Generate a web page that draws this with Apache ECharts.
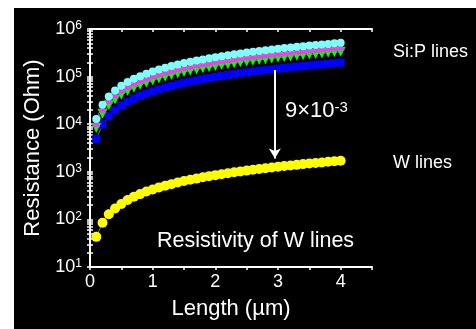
<!DOCTYPE html>
<html><head><meta charset="utf-8">
<script src="https://cdn.jsdelivr.net/npm/echarts@6/dist/echarts.min.js"></script>
<style>
html,body{margin:0;padding:0;background:#fff;}
#c{width:476px;height:329px;background:linear-gradient(#000,#000) 14px 8px / 462px 321px no-repeat #fff;}
</style></head><body><div id="c"></div>
<script>
// Length (µm)
const lengths = [0.1,0.2,0.3,0.4,0.5,0.6,0.7,0.8,0.9,1.0,1.1,1.2,1.3,1.4,1.5,1.6,1.7,1.8,1.9,2.0,
                 2.1,2.2,2.3,2.4,2.5,2.6,2.7,2.8,2.9,3.0,3.1,3.2,3.3,3.4,3.5,3.6,3.7,3.8,3.9,4.0];
// Si:P lines (Ohm)
const siPCyan = [12800,25600,38400,51200,64000,76800,89600,102000,115000,128000,141000,154000,166000,179000,192000,205000,218000,230000,243000,256000,
                 269000,282000,294000,307000,320000,333000,346000,358000,371000,384000,397000,410000,422000,435000,448000,461000,474000,486000,499000,512000];
const siPMagenta = [10700,21400,32100,42800,53500,64200,74900,85600,96300,107000,117700,128400,139100,149800,160500,171200,181900,192600,203300,214000,
                    224700,235400,246100,256800,267500,278200,288900,299600,310300,321000,331700,342400,353100,363800,374500,385200,395900,406600,417300,428000];
const siPGreen = [8300,16600,24900,33200,41500,49800,58100,66400,74700,83000,91300,99600,107900,116200,124500,132800,141100,149400,157700,166000,
                  174300,182600,190900,199200,207500,215800,224100,232400,240700,249000,257300,265600,273900,282200,290500,298800,307100,315400,323700,332000];
const siPBlue = [4900,9800,14700,19600,24500,29400,34300,39200,44100,49000,53900,58800,63700,68600,73500,78400,83300,88200,93100,98000,
                 102900,107800,112700,117600,122500,127400,132300,137200,142100,147000,151900,156800,161700,166600,171500,176400,181300,186200,191100,196000];
// W lines (Ohm)
const wLines = [43,85,128,170,210,255,300,340,385,425,470,510,550,595,640,680,720,765,810,850,
                890,935,980,1020,1060,1100,1150,1190,1230,1280,1320,1360,1400,1450,1490,1530,1570,1620,1660,1700];
// arrow: from Si:P (blue) to W
const arrowX = 2.95;
const arrowFrom = 138000;
const arrowTo = 1900;
// ticks
const xTickLabels = [0,1,2,3,4];
const yTickLabels = [10,100,1000,10000,100000,1000000];
const yTicks = [];
for (let d = 10; d < 1e6; d *= 10) for (let k = 1; k < 10; k++) yTicks.push(d * k);
yTicks.push(1e6);

const FONT = 'Liberation Sans, Arial, sans-serif';
const pair = a => lengths.map((x, i) => [x, a[i]]);
const chart = echarts.init(document.getElementById('c'));
const axisLine = {lineStyle:{color:'#fff', width:2}};
const tickStyle = {color:'#fff', width:1.5};
const mk = (name, data, color, symbol, size, rotate) => ({
  name, type:'line', data: pair(data), symbol, symbolSize: size, symbolRotate: rotate || 0,
  itemStyle:{color}, lineStyle:{color:'#777', width:1}, showSymbol:true, animation:false,
  emphasis:{disabled:true}
});
const yellow = mk('W lines', wLines, '#ffff00', 'circle', 10);
yellow.markLine = {
  silent:true, symbol:['none','arrow'], symbolSize:[9,10], animation:false,
  label:{show:false}, lineStyle:{color:'#fff', width:2, type:'solid'},
  data:[[{coord:[arrowX, arrowFrom]},{coord:[arrowX, arrowTo]}]]
};
chart.setOption({
  backgroundColor:'transparent',
  animation:false,
  textStyle:{fontFamily:FONT},
  grid:{left:90, top:29, right:104, bottom:62, containLabel:false},
  xAxis:[
    {type:'value', position:'bottom', min:0, max:4.5, interval:0.5,
     axisLine, axisTick:{inside:false, length:3, lineStyle:tickStyle},
     axisLabel:{customValues:xTickLabels, color:'#fff', fontSize:18, margin:6, fontFamily:FONT},
     splitLine:{show:false},
     name:'Length (µm)', nameLocation:'middle', nameGap:31,
     nameTextStyle:{color:'#fff', fontSize:22, fontFamily:FONT}},
    {type:'value', position:'top', min:0, max:4.5, interval:0.5,
     axisLine, axisTick:{inside:true, length:3, lineStyle:tickStyle},
     axisLabel:{show:false}, splitLine:{show:false}}
  ],
  yAxis:[
    {type:'log', logBase:10, min:10, max:1e6, position:'left',
     axisLine, axisTick:{customValues:yTicks, inside:true, length:3, lineStyle:tickStyle},
     axisLabel:{customValues:yTickLabels, margin:8,
       formatter: v => '{b|10}{s|' + Math.round(Math.log10(v)) + '}',
       rich:{b:{fontSize:18, color:'#fff', fontFamily:FONT},
             s:{fontSize:12, color:'#fff', fontFamily:FONT, verticalAlign:'top'}}},
     splitLine:{show:false},
     name:'Resistance (Ohm)', nameLocation:'middle', nameGap:46, nameRotate:90,
     nameTextStyle:{color:'#fff', fontSize:22, fontFamily:FONT}},
    {type:'log', logBase:10, min:10, max:1e6, position:'right',
     axisLine, axisTick:{customValues:yTicks, inside:true, length:3, lineStyle:tickStyle},
     axisLabel:{show:false}, splitLine:{show:false}}
  ],
  series:[
    mk('Si:P blue', siPBlue, '#0000ff', 'rect', 8),
    mk('Si:P green', siPGreen, '#00ff00', 'triangle', 10, 180),
    mk('Si:P magenta', siPMagenta, '#ff33ff', 'triangle', 8),
    mk('Si:P cyan', siPCyan, '#80ffff', 'circle', 8),
    yellow
  ],
  graphic:[
    {type:'text', x:393, y:52, style:{text:'Si:P lines', fill:'#fff', font:'18px ' + FONT, verticalAlign:'middle'}},
    {type:'text', x:393, y:163, style:{text:'W lines', fill:'#fff', font:'18px ' + FONT, verticalAlign:'middle'}},
    {type:'text', x:285, y:111, style:{text:'{a|9×10}{b|-3}', verticalAlign:'middle',
      rich:{a:{fontSize:22, fill:'#fff', fontFamily:FONT}, b:{fontSize:15, fill:'#fff', fontFamily:FONT, verticalAlign:'top'}}}},
    {type:'text', x:157, y:241, style:{text:'Resistivity of W lines', fill:'#fff', font:'21.5px ' + FONT, verticalAlign:'middle'}}
  ]
});
</script></body></html>
